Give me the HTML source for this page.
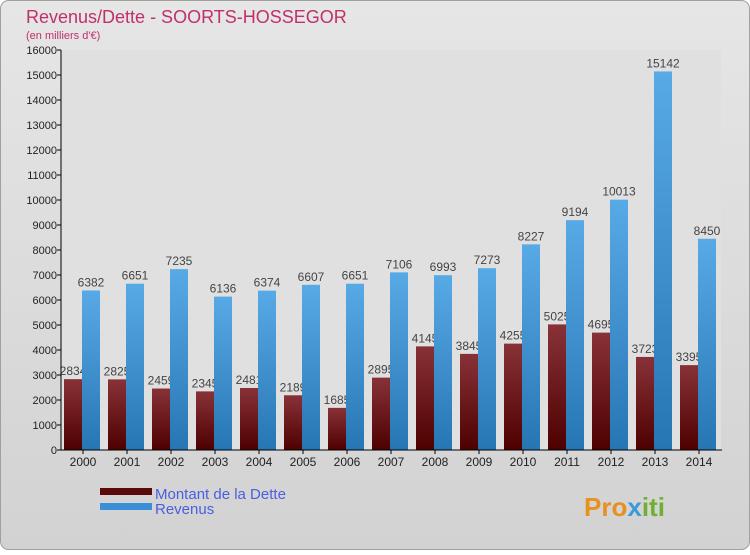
<!DOCTYPE html>
<html><head><meta charset="utf-8"><style>
body{margin:0;width:750px;height:550px;overflow:hidden;font-family:"Liberation Sans",sans-serif}
</style></head><body>
<svg id="c" width="750" height="550" xmlns="http://www.w3.org/2000/svg">
<defs>
<linearGradient id="bg" x1="0" y1="0" x2="0" y2="1"><stop offset="0" stop-color="#e6e6e6"/><stop offset="1" stop-color="#d2d2d2"/></linearGradient>
<linearGradient id="gr" x1="0" y1="0" x2="0" y2="1"><stop offset="0" stop-color="#883238"/><stop offset="1" stop-color="#4e0000"/></linearGradient>
<linearGradient id="gb" x1="0" y1="0" x2="0" y2="1"><stop offset="0" stop-color="#58aae6"/><stop offset="1" stop-color="#2676b4"/></linearGradient>
</defs>
<rect x="0.5" y="0.5" width="749" height="549" rx="8" fill="url(#bg)" stroke="#a0a0a0"/>
<text x="26" y="23" font-size="18" fill="#c0306a">Revenus/Dette - SOORTS-HOSSEGOR</text>
<text x="26" y="39" font-size="11" fill="#c0306a">(en milliers d'€)</text>
<g id="plot"></g>
<rect x="100" y="488" width="52" height="7" fill="#5a0a0a"/>
<rect x="100" y="503" width="52" height="7" fill="#3a90d8"/>
<text x="155" y="499" font-size="15" fill="#4a5ee0">Montant de la Dette</text>
<text x="155" y="514" font-size="15" fill="#4a5ee0">Revenus</text>
<text x="584" y="516" font-size="26" font-weight="bold" fill="#e89020">Pro<tspan fill="#3a9ad8">x</tspan><tspan fill="#70b030">iti</tspan></text>
</svg>
<script>
const years=["2000","2001","2002","2003","2004","2005","2006","2007","2008","2009","2010","2011","2012","2013","2014"];
const debt=[2834,2825,2459,2345,2481,2189,1685,2895,4145,3845,4255,5025,4695,3723,3395];
const revenue=[6382,6651,7235,6136,6374,6607,6651,7106,6993,7273,8227,9194,10013,15142,8450];
const ticks=[0,1000,2000,3000,4000,5000,6000,7000,8000,9000,10000,11000,12000,13000,14000,15000,16000];
const NS="http://www.w3.org/2000/svg";
const g=document.getElementById('plot');
const X0=61,Y0=450,STEP=44;
function y(v){return Y0-v*400/16000;}
function x(i){return X0+i*STEP;}
function mk(t,a){const e=document.createElementNS(NS,t);for(const k in a)e.setAttribute(k,a[k]);g.appendChild(e);return e;}
mk('rect',{x:X0,y:50,width:660,height:400,fill:'#e0e0e0'});
ticks.forEach(t=>{
 const l=mk('line',{x1:X0-4,x2:X0,y1:y(t),y2:y(t),stroke:'#000'});
 
 
 const tx=mk('text',{x:X0-4,y:y(t)+4,'font-size':11,'text-anchor':'end',fill:'#222'});tx.textContent=t;
 
 
});
years.forEach((yr,i)=>{
 const r=mk('rect',{x:x(i)+3,y:y(debt[i]),width:18,height:Y0-y(debt[i]),fill:'url(#gr)'});
 
 
 const t=mk('text',{x:x(i)+12,y:y(debt[i])-4,'font-size':12,'text-anchor':'middle',fill:'#444'});t.textContent=debt[i];
 
 
});
years.forEach((yr,i)=>{
 const r=mk('rect',{x:x(i)+21,y:y(revenue[i]),width:18,height:Y0-y(revenue[i]),fill:'url(#gb)'});
 
 
 const t=mk('text',{x:x(i)+30,y:y(revenue[i])-4,'font-size':12,'text-anchor':'middle',fill:'#444'});t.textContent=revenue[i];
 
 
 const xl=mk('text',{x:x(i)+22,y:466,'font-size':12,'text-anchor':'middle',fill:'#222'});xl.textContent=yr;
 
 
 mk('line',{x1:x(i)+22,x2:x(i)+22,y1:Y0,y2:Y0+4,stroke:'#000'});
});
const ax=mk('line',{x1:X0,x2:X0,y1:50,y2:Y0,stroke:'#000'});


const bx=mk('line',{x1:X0,x2:722,y1:Y0,y2:Y0,stroke:'#000'});


</script>
</body></html>
